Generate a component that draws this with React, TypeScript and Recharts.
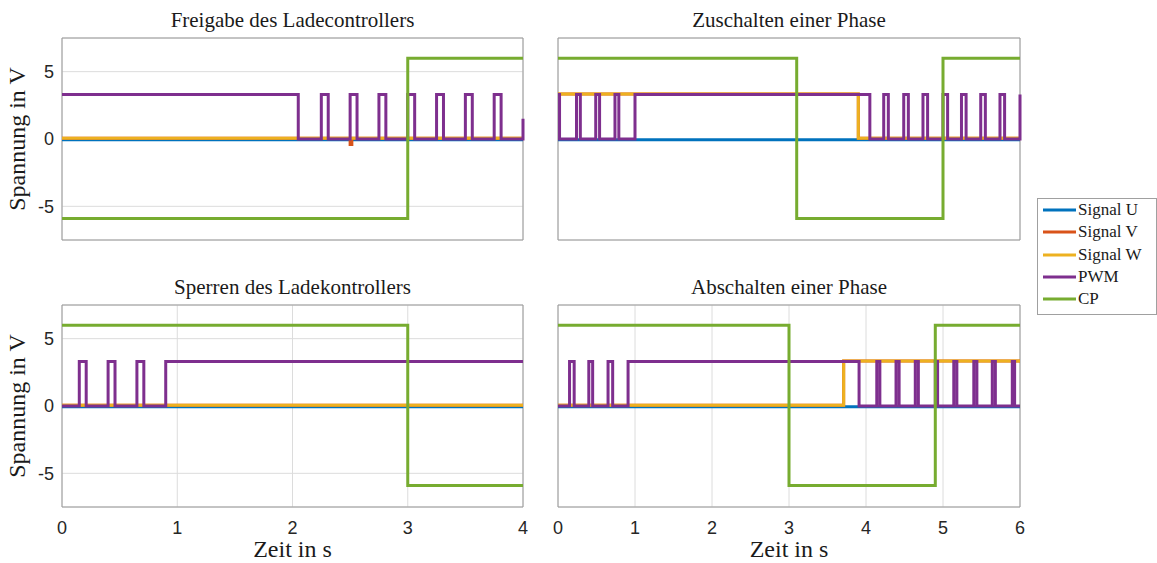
import React from "react";
import {
  LineChart,
  Line,
  XAxis,
  YAxis,
  CartesianGrid,
  ReferenceArea,
} from "recharts";

type Step = [number, number];

// breakpoints [time in s, voltage] - each value is held until the next one
const freigabeU: Step[] = [[0, -0.05], [4, -0.05]];
const freigabeV: Step[] = [[0, 0.05], [2.5, -0.4], [2.515, 0.05], [4, 0.05]];
const freigabeW: Step[] = [[0, 0.05], [4, 0.05]];
const freigabePwm: Step[] = [
  [0, 3.3], [2.05, 0], [2.25, 3.3], [2.31, 0], [2.5, 3.3], [2.56, 0],
  [2.75, 3.3], [2.81, 0], [3.0, 3.3], [3.06, 0], [3.25, 3.3], [3.31, 0],
  [3.5, 3.3], [3.56, 0], [3.75, 3.3], [3.81, 0], [4, 1.5],
];
const freigabeCp: Step[] = [[0, -5.9], [3.0, 6.0], [4, 6.0]];

const zuschaltenU: Step[] = [[0, -0.05], [6, -0.05]];
const zuschaltenV: Step[] = [[0, 3.35], [3.9, 0.05], [6, 0.05]];
const zuschaltenW: Step[] = [[0, 3.35], [3.9, 0.05], [6, 0.05]];
const zuschaltenPwm: Step[] = [
  [0, 3.3], [0.02, 0], [0.24, 3.3], [0.29, 0], [0.49, 3.3], [0.54, 0],
  [0.74, 3.3], [0.79, 0], [1.0, 3.3], [4.05, 0], [4.23, 3.3], [4.29, 0],
  [4.49, 3.3], [4.55, 0], [4.74, 3.3], [4.8, 0], [5.0, 3.3], [5.06, 0],
  [5.24, 3.3], [5.3, 0], [5.49, 3.3], [5.55, 0], [5.74, 3.3], [5.8, 0],
  [6, 3.3],
];
const zuschaltenCp: Step[] = [[0, 6.0], [3.1, -5.9], [5.0, 6.0], [6, 6.0]];

const sperrenU: Step[] = [[0, -0.05], [4, -0.05]];
const sperrenV: Step[] = [[0, 0.05], [4, 0.05]];
const sperrenW: Step[] = [[0, 0.05], [4, 0.05]];
const sperrenPwm: Step[] = [
  [0, 0], [0.15, 3.3], [0.21, 0], [0.4, 3.3], [0.46, 0], [0.65, 3.3],
  [0.71, 0], [0.9, 3.3], [4, 3.3],
];
const sperrenCp: Step[] = [[0, 6.0], [3.0, -5.9], [4, -5.9]];

const abschaltenU: Step[] = [[0, -0.05], [6, -0.05]];
const abschaltenV: Step[] = [[0, 0.05], [3.71, 3.35], [6, 3.35]];
const abschaltenW: Step[] = [[0, 0.05], [3.71, 3.35], [6, 3.35]];
const abschaltenPwm: Step[] = [
  [0, 0], [0.15, 3.3], [0.21, 0], [0.4, 3.3], [0.45, 0], [0.65, 3.3],
  [0.71, 0], [0.91, 3.3], [3.91, 0], [4.14, 3.3], [4.18, 0], [4.39, 3.3],
  [4.43, 0], [4.64, 3.3], [4.68, 0], [4.9, 3.3], [4.93, 0], [5.14, 3.3],
  [5.18, 0], [5.4, 3.3], [5.44, 0], [5.64, 3.3], [5.68, 0], [5.9, 3.3],
  [5.93, 0], [6, 0],
];
const abschaltenCp: Step[] = [[0, 6.0], [3.0, -5.9], [4.9, 6.0], [6, 6.0]];

const SERIES = ["Signal U", "Signal V", "Signal W", "PWM", "CP"];
const COLORS = ["#0072BD", "#D95319", "#EDB120", "#7E2F8E", "#77AC30"];
const Y_TICKS = [-5, 0, 5];
const TICKS_4 = [0, 1, 2, 3, 4];
const TICKS_6 = [0, 1, 2, 3, 4, 5, 6];

const SERIF = '"Liberation Serif", "Times New Roman", serif';
const SANS = "Liberation Sans";

const toPts = (s: Step[]) => s.map(([t, v]) => ({ t, v }));

const textStyle: React.CSSProperties = {
  position: "absolute",
  fontFamily: SERIF,
  color: "#1a1a1a",
  textAlign: "center",
  whiteSpace: "nowrap",
};

interface PanelProps {
  title: string;
  series: Step[][];
  xTicks: number[];
  left: number;
  top: number;
  leftCol: boolean;
  bottomRow: boolean;
}

function Panel({ title, series, xTicks, left, top, leftCol, bottomRow }: PanelProps) {
  const width = leftCol ? 540 : 500;
  const height = bottomRow ? 293 : 260;
  const yWidth = leftCol ? 40 : 0;
  const xHeight = bottomRow ? 56 : 20;
  const margin = {
    top: bottomRow ? 35 : 38,
    right: leftCol ? 17 : 20,
    bottom: 0,
    left: leftCol ? 22 : 18,
  };
  const xMax = xTicks[xTicks.length - 1];
  const plotLeft = margin.left + yWidth;
  const plotWidth = width - margin.right - plotLeft;
  const plotHeight = height - margin.top - xHeight;

  return (
    <div style={{ position: "absolute", left, top, width, height }}>
      <div
        style={{
          ...textStyle,
          left: plotLeft,
          width: plotWidth,
          top: margin.top - 30,
          lineHeight: "24px",
          fontSize: 21,
        }}
      >
        {title}
      </div>
      {bottomRow && (
        <div
          style={{
            ...textStyle,
            left: plotLeft,
            width: plotWidth,
            top: height - 28,
            lineHeight: "28px",
            fontSize: 24,
          }}
        >
          Zeit in s
        </div>
      )}
      {leftCol && (
        <div
          style={{
            ...textStyle,
            left: 17 - 100,
            width: 200,
            top: margin.top + plotHeight / 2 - 14,
            lineHeight: "28px",
            fontSize: 24,
            transform: "rotate(-90deg)",
          }}
        >
          Spannung in V
        </div>
      )}
      <LineChart width={width} height={height} margin={margin}>
        <CartesianGrid stroke="#dcdcdc" />
        <XAxis
          dataKey="t"
          type="number"
          domain={[0, xMax]}
          ticks={xTicks}
          height={xHeight}
          axisLine={false}
          tickLine={false}
          tickSize={0}
          tickMargin={14}
          tick={bottomRow ? { fontSize: 18, fill: "#262626", fontFamily: SANS } : false}
        />
        <YAxis
          type="number"
          domain={[-7.5, 7.5]}
          ticks={Y_TICKS}
          width={yWidth}
          axisLine={false}
          tickLine={false}
          tickSize={0}
          tickMargin={8}
          tick={leftCol ? { fontSize: 18, fill: "#262626", fontFamily: SANS } : false}
        />
        <ReferenceArea x1={0} x2={xMax} y1={-7.5} y2={7.5} fill="none" stroke="#9a9a9a" strokeOpacity={1} />
        {series.map((s, i) => (
          <Line
            key={SERIES[i]}
            data={toPts(s)}
            dataKey="v"
            name={SERIES[i]}
            type="stepAfter"
            stroke={COLORS[i]}
            strokeWidth={3}
            dot={false}
            activeDot={false}
            isAnimationActive={false}
          />
        ))}
      </LineChart>
    </div>
  );
}

function LegendBox() {
  return (
    <div
      style={{
        position: "absolute",
        left: 1037,
        top: 198,
        width: 118,
        height: 115,
        border: "1px solid #a0a0a0",
        background: "#fff",
        fontFamily: SERIF,
        fontSize: 17,
        color: "#1a1a1a",
      }}
    >
      {SERIES.map((name, i) => (
        <div key={name} style={{ display: "flex", alignItems: "center", height: 22.3 }}>
          <svg width={40} height={6} style={{ flex: "none" }}>
            <line x1={5} y1={3} x2={38} y2={3} stroke={COLORS[i]} strokeWidth={3} />
          </svg>
          <span style={{ whiteSpace: "nowrap" }}>{name}</span>
        </div>
      ))}
    </div>
  );
}

export default function App() {
  return (
    <div style={{ position: "absolute", left: 0, top: 0, width: 1157, height: 563, background: "#fff" }}>
      <Panel
        title="Freigabe des Ladecontrollers"
        series={[freigabeU, freigabeV, freigabeW, freigabePwm, freigabeCp]}
        xTicks={TICKS_4}
        left={0}
        top={0}
        leftCol
        bottomRow={false}
      />
      <Panel
        title="Zuschalten einer Phase"
        series={[zuschaltenU, zuschaltenV, zuschaltenW, zuschaltenPwm, zuschaltenCp]}
        xTicks={TICKS_6}
        left={540}
        top={0}
        leftCol={false}
        bottomRow={false}
      />
      <Panel
        title="Sperren des Ladekontrollers"
        series={[sperrenU, sperrenV, sperrenW, sperrenPwm, sperrenCp]}
        xTicks={TICKS_4}
        left={0}
        top={270}
        leftCol
        bottomRow
      />
      <Panel
        title="Abschalten einer Phase"
        series={[abschaltenU, abschaltenV, abschaltenW, abschaltenPwm, abschaltenCp]}
        xTicks={TICKS_6}
        left={540}
        top={270}
        leftCol={false}
        bottomRow
      />
      <LegendBox />
    </div>
  );
}
